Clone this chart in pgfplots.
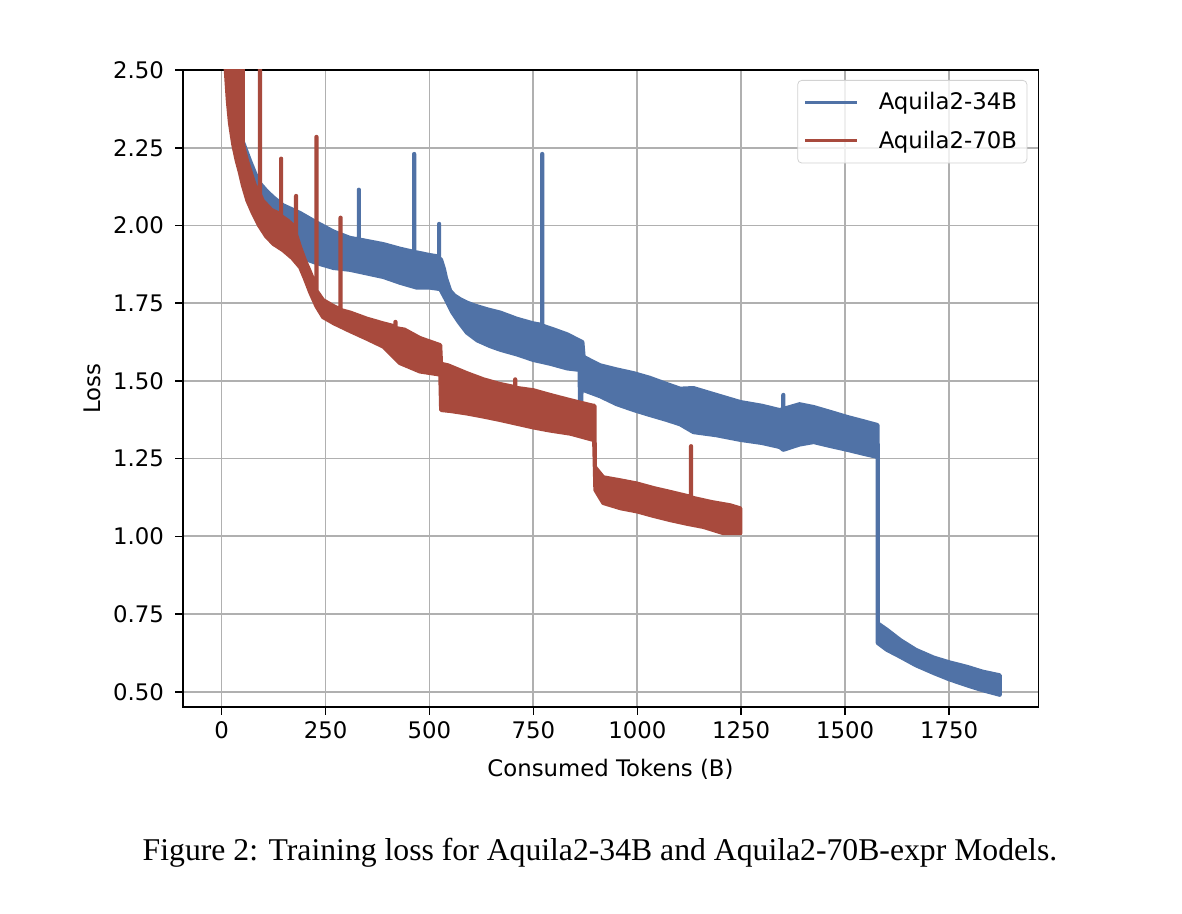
\documentclass[border=0pt]{standalone}
\usepackage{fontspec}
\setmainfont{DejaVu Sans}
\newfontfamily\capfont{Liberation Serif}
\usepackage{pgfplots}
\pgfplotsset{compat=1.18}

\definecolor{c34}{RGB}{80,114,166}
\definecolor{c70}{RGB}{168,74,61}
\definecolor{gridgray}{RGB}{176,176,176}

\begin{document}
\begin{tikzpicture}
\path[use as bounding box] (0,0) rectangle (591pt,457pt);
\begin{axis}[
  at={(91.35pt,103.35pt)}, anchor=south west,
  scale only axis,
  width=427.8pt, height=318.65pt,
  xmin=-93.5, xmax=1964.5,
  ymin=0.45, ymax=2.5,
  xtick={0,250,...,1750},
  ytick={0.5,0.75,...,2.5},
  grid=major,
  major grid style={gridgray, line width=0.9pt},
  axis line style={line width=0.8pt},
  tick align=outside,
  xtick pos=bottom, ytick pos=left,
  major tick length=3.85pt,
  every tick/.style={black, line width=0.8pt},
  font=\fontsize{11.4}{13}\selectfont,
  /pgf/number format/assume math mode=true,
  /pgf/number format/1000 sep={},
  yticklabel style={xshift=-2pt, /pgf/number format/fixed, /pgf/number format/fixed zerofill, /pgf/number format/precision=2},
  xlabel={Consumed Tokens (B)},
  ylabel={Loss},
  every axis x label/.style={at={(axis description cs:0.5,0)}, anchor=base, yshift=-34.4pt},
  every axis y label/.style={at={(axis description cs:0,0.5)}, anchor=base, rotate=90, yshift=41.3pt},
  legend cell align=left,
  legend style={at={(1,1)}, anchor=north east, xshift=-5.5pt, yshift=-5pt,
    draw=gray!35, rounded corners=2pt, fill=white, fill opacity=0.8, text opacity=1,
    font=\fontsize{11.4}{13}\selectfont, row sep=5pt, inner xsep=3pt, inner ysep=4pt,
    /tikz/every odd column/.append style={column sep=8pt}},
  legend image code/.code={\draw[#1] (0pt,0pt) -- (26pt,0pt);},
]
% Aquila2-34B: band of the noisy loss (upper edge, then lower edge back)
\addplot[forget plot, fill=c34, draw=c34, line width=2pt, line join=round] coordinates {
(5,2.7) (40,2.7) (48,2.28) (54,2.26) (68,2.21) (80,2.17) (92,2.136) (109,2.11)
(125,2.09) (148,2.065) (189,2.04) (228,2.01) (270,1.98) (309,1.96)
(330,1.955) (330,2.115) (330.5,2.115) (330.5,1.955)
(350,1.95) (389,1.94) (430,1.925)
(463,1.915) (463,2.23) (463.5,2.23) (463.5,1.915)
(500,1.905) (523,1.9) (523,2.005) (523.5,2.005) (523.5,1.895) (528,1.89)
(535,1.86) (540,1.83) (550,1.79) (560,1.775) (575,1.762) (590,1.752) (610,1.742)
(640,1.73) (670,1.72) (710,1.70) (750,1.685)
(771,1.68) (771,2.23) (771.5,2.23) (771.5,1.678)
(800,1.665) (831,1.65) (868,1.625) (871,1.577) (911,1.55) (950,1.537) (991,1.525)
(1030,1.51) (1071,1.49) (1103,1.475) (1135,1.477) (1190,1.455) (1248,1.432)
(1300,1.42) (1343,1.406) (1351,1.41) (1351,1.455) (1351.5,1.455) (1351.5,1.41) (1390,1.425)
(1424,1.416) (1465,1.40) (1505,1.384) (1545,1.37) (1578,1.358) (1578.5,1.26)
(1578.5,0.72) (1600,0.70) (1633,0.666) (1670,0.635) (1713,0.61) (1750,0.595)
(1794,0.58) (1830,0.565) (1872,0.553)
(1872,0.49) (1830,0.505) (1794,0.52) (1750,0.54) (1713,0.56) (1670,0.585)
(1633,0.612) (1600,0.635) (1578,0.657) (1578,1.255) (1545,1.265) (1505,1.278)
(1465,1.29) (1424,1.303) (1390,1.295) (1351,1.278) (1343,1.287) (1300,1.30)
(1248,1.31) (1190,1.325) (1135,1.335) (1103,1.36) (1071,1.374) (1030,1.39)
(991,1.406) (950,1.425) (911,1.45) (871,1.47) (866,1.47) (865,1.43) (862,1.43)
(861,1.535) (831,1.54) (790,1.555) (750,1.567) (710,1.585) (670,1.60) (645,1.612)
(615,1.63) (590,1.655) (570,1.69) (555,1.72) (540,1.76) (526,1.795) (500,1.80)
(469,1.80) (430,1.815) (389,1.834) (309,1.857) (269,1.863) (228,1.879) (189,1.898)
(150,1.95) (100,2.02) (60,2.12) (30,2.3) (10,2.55)
} -- cycle;
% Aquila2-70B
\addplot[forget plot, fill=c70, draw=c70, line width=2pt, line join=round] coordinates {
(3,2.7) (51,2.7) (51,2.265) (56,2.235) (62,2.205) (68,2.18) (80,2.13)
(92,2.10) (92,2.7) (92.5,2.7) (92.5,2.10) (99,2.08) (120,2.05)
(143,2.035) (143,2.215) (143.5,2.215) (143.5,2.03) (160,2.015) (172,2.0)
(179,1.98) (179,2.095) (179.5,2.095) (179.5,1.97) (189,1.93) (200,1.89) (213,1.85)
(228,1.80) (228,2.285) (228.5,2.285) (228.5,1.79) (244,1.76) (270,1.74)
(286,1.73) (286,2.025) (286.5,2.025) (286.5,1.728) (309,1.72) (350,1.70) (389,1.685)
(418,1.675) (418,1.69) (418.5,1.69) (418.5,1.67) (440,1.665) (477,1.638) (526,1.615)
(528,1.555) (545,1.55) (590,1.525) (630,1.505) (670,1.49)
(706,1.48) (706,1.505) (706.5,1.505) (706.5,1.478) (750,1.47) (790,1.455)
(839,1.438) (894,1.42) (897,1.42) (898,1.223) (918,1.19) (960,1.18) (999,1.17)
(1040,1.155) (1079,1.143) (1129,1.127) (1129,1.29) (1129.5,1.29) (1129.5,1.125)
(1180,1.11) (1223,1.10) (1248,1.09)
(1248,1.01) (1207,1.01) (1159,1.03) (1120,1.04) (1079,1.052) (1040,1.065)
(999,1.08) (960,1.09) (918,1.107) (899,1.149) (896,1.31) (894,1.31) (839,1.33)
(790,1.34) (750,1.35) (710,1.362) (670,1.374) (630,1.385) (590,1.395) (550,1.403)
(528,1.406) (526,1.52) (477,1.53) (429,1.557) (389,1.61) (350,1.635) (309,1.66)
(270,1.685) (244,1.705) (228,1.74) (213,1.785) (200,1.83) (189,1.865) (170,1.895)
(148,1.92) (125,1.94) (107,1.965) (90,2.0) (75,2.04) (62,2.08) (51,2.13) (44,2.17)
(36,2.21) (28,2.26) (20,2.33) (15,2.4) (10,2.5) (6,2.6)
} -- cycle;
\addlegendimage{c34, line width=1.5pt}
\addlegendentry{Aquila2-34B}
\addlegendimage{c70, line width=1.5pt}
\addlegendentry{Aquila2-70B}
\end{axis}
\node[anchor=base, font=\capfont\fontsize{15.85}{19}\selectfont] at (300pt,26.5pt)
  {Figure 2: Training loss for Aquila2-34B and Aquila2-70B-expr Models.};
\end{tikzpicture}
\end{document}
